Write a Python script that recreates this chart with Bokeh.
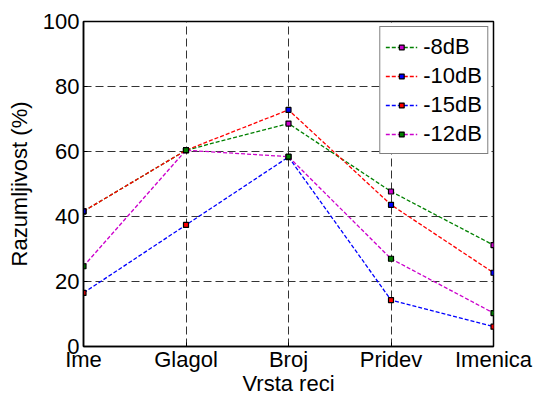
from bokeh.plotting import figure
from bokeh.models import Range1d, FixedTicker, Legend, LegendItem
from bokeh.embed import file_html
from bokeh.resources import INLINE

categories = ["Ime", "Glagol", "Broj", "Pridev", "Imenica"]
s_8db = [41.6, 60.4, 68.6, 47.7, 31.2]
s_10db = [41.6, 60.4, 72.8, 43.6, 22.7]
s_15db = [16.5, 37.4, 58.3, 14.3, 6.1]
s_12db = [24.7, 60.4, 58.4, 27.0, 10.3]
y_ticks = [0, 20, 40, 60, 80, 100]

series = [
    ("-8dB", s_8db, "#008000", "#cc00cc"),
    ("-10dB", s_10db, "#ff0000", "#0000ff"),
    ("-15dB", s_15db, "#0000ff", "#ff0000"),
    ("-12dB", s_12db, "#cc00cc", "#008000"),
]

FONT = "Liberation Sans"
xs = list(range(1, len(categories) + 1))

p = figure(width=534, height=398, output_backend="svg", toolbar_location=None,
           x_range=Range1d(1, len(categories)), y_range=Range1d(0, 100),
           min_border_left=83, min_border_right=41, min_border_top=21,
           min_border_bottom=49)
p.background_fill_color = "white"
p.border_fill_color = "white"
p.outline_line_color = "black"
p.outline_line_width = 1.5

p.xaxis.ticker = FixedTicker(ticks=xs)
p.xaxis.major_label_overrides = {x: c for x, c in zip(xs, categories)}
p.yaxis.ticker = FixedTicker(ticks=y_ticks)
p.xaxis.axis_label = "Vrsta reci"
p.yaxis.axis_label = "Razumljivost (%)"
for ax in (p.xaxis, p.yaxis):
    ax.axis_label_text_font = FONT
    ax.axis_label_text_font_size = "22px"
    ax.axis_label_text_font_style = "normal"
    ax.axis_label_text_color = "black"
    ax.major_label_text_font = FONT
    ax.major_label_text_font_size = "22px"
    ax.major_label_text_color = "black"
    ax.axis_line_color = "black"
    ax.axis_line_width = 1.5
    ax.major_tick_in = 4
    ax.major_tick_out = 0
    ax.minor_tick_line_color = None
    ax.major_tick_line_color = "black"
p.xaxis.major_label_standoff = 0
p.xaxis.axis_label_standoff = -4
p.yaxis.major_label_standoff = 4
p.yaxis.axis_label_standoff = 8

for g in (p.xgrid, p.ygrid):
    g.grid_line_color = "#333333"
    g.grid_line_dash = "8 4"
    g.grid_line_width = 1

items = []
for label, vals, lc, mc in series:
    l = p.line(xs, vals, line_color=lc, line_dash="4 2", line_width=1.3)
    s = p.scatter(xs, vals, marker="square", size=5, fill_color=mc,
                  line_color="black", line_width=1.2)
    items.append(LegendItem(label=label, renderers=[l, s]))

legend = Legend(items=items, location="top_right")
legend.label_text_font = FONT
legend.label_text_font_size = "22px"
legend.label_text_color = "black"
legend.border_line_color = "black"
legend.border_line_width = 1.2
legend.background_fill_alpha = 1
legend.glyph_width = 32
legend.glyph_height = 12
legend.label_standoff = 6
legend.spacing = 0
legend.padding = 5
legend.margin = 5
legend.label_height = 29
p.add_layout(legend)

open("out.html", "w").write(file_html(p, INLINE))
